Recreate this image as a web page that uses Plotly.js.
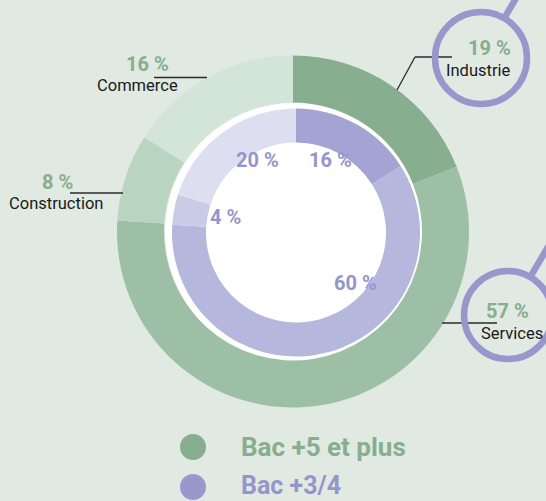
<!DOCTYPE html>
<html>
<head>
<meta charset="utf-8">
<script src="https://cdn.plot.ly/plotly-3.0.1.min.js"></script>
<style>html,body{margin:0;padding:0;background:#e0e9e2;}#chart{width:546px;height:501px;}</style>
</head>
<body>
<div id="chart"></div>
<script>
// ---- Data ----
const sectors = ["Industrie", "Services", "Construction", "Commerce"];
const bac5Values = [19, 57, 8, 16];      // Bac +5 et plus (outer ring)
const bac34Values = [16, 60, 4, 20];     // Bac +3/4 (inner ring)
const seriesNames = ["Bac +5 et plus", "Bac +3/4"];

// ---- Styles ----
const W = 546, H = 501;
const bg = "#e0e9e2";
const greenCols = ["#86ae8f", "#9cbfa5", "#b9d4c1", "#d3e4d9"];
const purpleCols = ["#a3a4d3", "#b5b8dc", "#cacbe7", "#dddeef"];
const greenText = "#86ae8f";
const purpleText = "#9595cc";
const ringCol = "#9797cc";
const FONT = "Roboto, 'Open Sans', sans-serif";

const px = x => x / W;
const py = y => 1 - y / H;

function domainFor(cx, cy, r) {
  return { x: [px(cx - r), px(cx + r)], y: [py(cy + r), py(cy - r)] };
}

const outerR = 176, innerR = 124;
const traces = [
  {
    type: "pie", labels: sectors, values: bac5Values, sort: false,
    direction: "clockwise", rotation: 0, hole: 129 / outerR,
    domain: domainFor(293, 231.5, outerR),
    marker: { colors: greenCols, line: { width: 0 } },
    textinfo: "none", hoverinfo: "label+value", showlegend: false, name: seriesNames[0]
  },
  {
    type: "pie", labels: sectors, values: bac34Values, sort: false,
    direction: "clockwise", rotation: 0, hole: 90 / innerR,
    domain: domainFor(296, 232.5, innerR),
    marker: { colors: purpleCols, line: { width: 0 } },
    textinfo: "none", hoverinfo: "label+value", showlegend: false, name: seriesNames[1]
  }
];

function circle(cx, cy, r, opts) {
  return Object.assign({ type: "circle", xref: "paper", yref: "paper",
    x0: px(cx - r), x1: px(cx + r), y0: py(cy + r), y1: py(cy - r) }, opts);
}
function line(x0, y0, x1, y1, opts) {
  return Object.assign({ type: "line", xref: "paper", yref: "paper",
    x0: px(x0), y0: py(y0), x1: px(x1), y1: py(y1) }, opts);
}

const leader = { line: { color: "#2a2a2a", width: 1.3 } };
const ring = { line: { color: ringCol, width: 6.5 }, fillcolor: "rgba(0,0,0,0)" };

const shapes = [
  circle(294, 232, 129, { layer: "below", fillcolor: "#ffffff", line: { width: 0 } }),
  // leader lines
  line(154, 77.5, 207, 77.5, leader),
  line(70, 193, 123, 193, leader),
  line(415, 57, 452, 57, leader),
  line(415, 57, 397, 90, leader),
  line(442, 323, 497, 323, leader),
  // magnifier rings
  circle(481, 58, 46, ring),
  line(504.3, 18.2, 535, -34, { line: { color: ringCol, width: 6.5 } }),
  circle(508, 315, 44, ring),
  line(530.3, 276.9, 565, 218, { line: { color: ringCol, width: 6.5 } }),
  // legend markers
  circle(193, 447, 13, { fillcolor: greenCols[0], line: { width: 0 } }),
  circle(193, 487, 13, { fillcolor: "#9898cd", line: { width: 0 } })
];

function ann(text, x, y, size, color, bold, xanchor) {
  return { text: bold ? "<b>" + text + "</b>" : text, x: px(x), y: py(y),
    xref: "paper", yref: "paper", showarrow: false, xanchor: xanchor || "center", yanchor: "middle",
    font: { family: FONT, size: size, color: color } };
}
const pct = v => v + " %";

// positions of the outer labels (Industrie, Services, Construction, Commerce)
const outerPos = [[489, 48, 478.5, 70], [507, 311, 511.5, 333], [57.5, 182, 56.5, 203], [147, 64, 137, 85]];
// positions of inner labels
const innerPos = [[330, 160], [355, 283], [225, 217], [257, 160]];

const annotations = [];
sectors.forEach((s, i) => {
  const p = outerPos[i];
  annotations.push(ann(pct(bac5Values[i]), p[0], p[1], 20, greenText, true));
  annotations.push(ann(s, p[2], p[3], 16.5, "#1a1a1a", false));
  annotations.push(ann(pct(bac34Values[i]), innerPos[i][0], innerPos[i][1], 20, purpleText, true));
});
annotations.push(ann(seriesNames[0], 239, 447, 26, greenText, true, "left"));
annotations.push(ann(seriesNames[1], 239, 485, 25, purpleText, true, "left"));

const layout = {
  width: W, height: H,
  margin: { l: 0, r: 0, t: 0, b: 0 },
  paper_bgcolor: bg, plot_bgcolor: bg,
  showlegend: false,
  shapes: shapes, annotations: annotations
};

Plotly.newPlot("chart", traces, layout, { displayModeBar: false, staticPlot: true });
</script>
</body>
</html>
